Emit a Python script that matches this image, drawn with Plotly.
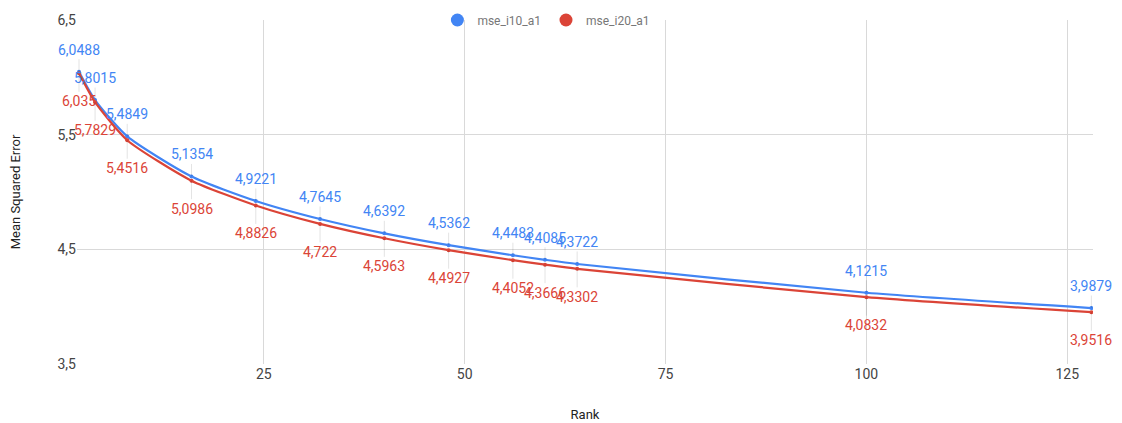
import plotly.graph_objects as go

rank = [2, 4, 8, 16, 24, 32, 40, 48, 56, 60, 64, 100, 128]
mse_i10_a1 = [6.0488, 5.8015, 5.4849, 5.1354, 4.9221, 4.7645, 4.6392, 4.5362,
              4.4483, 4.4085, 4.3722, 4.1215, 3.9879]
mse_i20_a1 = [6.035, 5.7829, 5.4516, 5.0986, 4.8826, 4.722, 4.5963, 4.4927,
              4.4052, 4.3666, 4.3302, 4.0832, 3.9516]
y_ticks = [3.5, 4.5, 5.5, 6.5]
x_ticks = [25, 50, 75, 100, 125]

BLUE = "#4285F4"
RED = "#DB4437"
FONT = "Roboto"


def fmt(v):
    return str(v).replace(".", ",")


fig = go.Figure()
series = [("mse_i10_a1", mse_i10_a1, BLUE, -22), ("mse_i20_a1", mse_i20_a1, RED, 28)]

for name, vals, col, off in series:
    fig.add_trace(go.Scatter(
        x=rank, y=vals, mode="lines+markers", name=name, showlegend=False,
        line=dict(color=col, width=2.2, shape="spline", smoothing=0.6),
        marker=dict(color=col, size=4),
    ))

# legend-only markers
for name, vals, col, off in series:
    fig.add_trace(go.Scatter(
        x=[None], y=[None], mode="markers", name=name,
        marker=dict(color=col, size=13),
    ))

annotations = []
for name, vals, col, off in series:
    for xv, yv in zip(rank, vals):
        annotations.append(dict(
            x=xv, y=yv, xref="x", yref="y", text=fmt(yv),
            showarrow=True, arrowhead=0, arrowwidth=1,
            arrowcolor="rgba(0,0,0,0.10)", ax=0, ay=off,
            font=dict(family=FONT, size=14, color=col),
        ))

# page body adds an 8px offset; margins compensate so the plot area matches
fig.update_layout(
    width=1122, height=423,
    margin=dict(l=69, r=37, t=12, b=67, autoexpand=False),
    paper_bgcolor="white", plot_bgcolor="white",
    font=dict(family=FONT, size=13, color="#444444"),
    annotations=annotations,
    showlegend=True,
    legend=dict(
        orientation="h", x=0.462, xanchor="center", y=1.0, yanchor="middle",
        bgcolor="rgba(0,0,0,0)", font=dict(family=FONT, size=12, color="#777777"),
        itemwidth=30, tracegroupgap=0,
    ),
    xaxis=dict(
        range=[1.75, 128.2], tickvals=x_ticks, ticktext=[str(t) for t in x_ticks],
        showgrid=True, gridcolor="#d9d9d9", gridwidth=1, zeroline=False,
        showline=False, ticks="",
        tickfont=dict(family=FONT, size=14, color="#444444"),
        title=dict(text="Rank", font=dict(family=FONT, size=13, color="#222222"), standoff=28),
    ),
    yaxis=dict(
        range=[3.5, 6.5], tickvals=y_ticks, ticktext=[fmt(t) for t in y_ticks],
        showgrid=True, gridcolor="#d9d9d9", gridwidth=1, zeroline=False,
        showline=False, ticks="",
        tickfont=dict(family=FONT, size=14, color="#444444"),
        title=dict(text="Mean Squared Error", font=dict(family=FONT, size=13, color="#222222"), standoff=34),
    ),
)

fig.write_html("out.html")
